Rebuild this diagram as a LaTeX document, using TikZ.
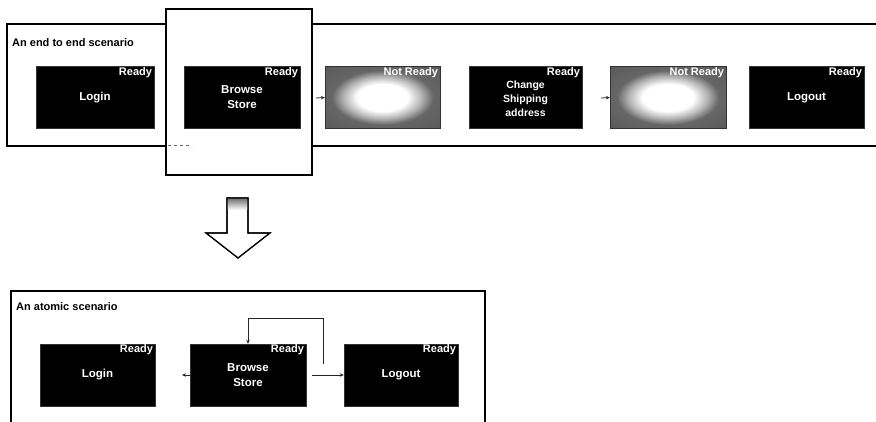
\documentclass[tikz,border=0pt]{standalone}
\usepackage{fontspec}
\setmainfont{Liberation Sans}
\usetikzlibrary{arrows.meta,calc}
\pgfdeclareradialshading{nrshade}{\pgfpoint{0bp}{0bp}}{color(0bp)=(white); color(11bp)=(white); color(17bp)=(black!30); color(22bp)=(black!60); color(50bp)=(black!70)}
\begin{document}
\begin{tikzpicture}[x=1pt,y=-1pt,
  frame/.style={draw=black,line width=1.1pt},
  blk/.style={draw=black!80,fill=black,minimum width=#1,minimum height=62,inner sep=0pt,
    text=white,font=\bfseries\fontsize{11.5}{15}\selectfont,align=center},
  nrbox/.style={draw=black!80,shading=nrshade,minimum width=#1,minimum height=62,inner sep=0pt},
  rdy/.style={text=white,font=\bfseries\fontsize{11}{12}\selectfont,inner sep=1pt,anchor=north east},
  ttl/.style={font=\bfseries\fontsize{11}{12}\selectfont,anchor=west,inner sep=0pt},
  conn/.style={draw=black!85,line width=0.8pt},
  tip/.style={-{Stealth[length=4pt,width=3.5pt]}}
]
\useasboundingbox (0,0) rectangle (876,422);

% top scenario frame (open to the right)
\draw[frame] (876,24) -- (7,24) -- (7,146) -- (876,146);
\node[ttl] (t1) at (12,43) {An end to end scenario};

% highlight frame around Browse Store
\draw[frame,fill=white] (166,9) rectangle (312,175);
\draw[conn,dashed,draw=black!60] (168,145) -- (192,145);

% top row
\node[blk=118] (l1) at (95,97.5) {Login};
\node[blk=116] (b1) at (242,97.5) {Browse\\Store};
\node[nrbox=115] (n1) at (382.5,97.5) {};
\node[blk=113,font=\bfseries\fontsize{10.5}{16}\selectfont,text depth=0pt] (c1) at (525.5,97.5) {\raisebox{-3pt}{\shortstack{Change\\[1pt]Shipping\\[1pt]address}}};
\node[nrbox=116] (n2) at (668,97.5) {};
\node[blk=115] (o1) at (806.5,97.5) {Logout};
\foreach \b in {l1,b1,c1,o1}{\node[rdy] at ($(\b.north east)+(-1,0)$) {Ready};}
\foreach \b in {n1,n2}{\node[rdy] at ($(\b.north east)+(-1,0)$) {Not Ready};}

\coordinate (a1) at (316,98);
\coordinate (a2) at (601,98);
\draw[conn,tip] (a1) -- (n1.west);
\draw[conn,tip] (a2) -- (n2.west);

% down arrow
\draw[line width=1.1pt,fill=white] (227,198) -- (248,198) -- (248,233) -- (270,233) -- (238,258) -- (206,233) -- (227,233) -- cycle;
\shade[top color=black!55,bottom color=white] (227.6,198.6) rectangle (247.4,210);
\draw[line width=1.1pt] (227,198) -- (248,198) -- (248,233) -- (270,233) -- (238,258) -- (206,233) -- (227,233) -- cycle;

% bottom scenario frame (open at bottom)
\draw[frame] (11,422) -- (11,291) -- (485,291) -- (485,422);
\node[ttl] (t2) at (16,307) {An atomic scenario};

\node[blk=115] (l2) at (97.5,375) {Login};
\node[blk=116] (b2) at (248,375) {Browse\\Store};
\node[blk=114] (o2) at (401,375) {Logout};
\foreach \b in {l2,b2,o2}{\node[rdy] at ($(\b.north east)+(-1,0)$) {Ready};}

\coordinate (lp) at (323,364);
\coordinate (lt) at (248,318);
\coordinate (ls) at (182,375);
\coordinate (lr) at (312,375);
\draw[conn,tip] (lr) -- (o2.west);
\draw[conn,tip] (lp) |- (lt) -- (b2.north);
\draw[conn,tip] (b2.west) -- (ls);
\end{tikzpicture}
\end{document}
